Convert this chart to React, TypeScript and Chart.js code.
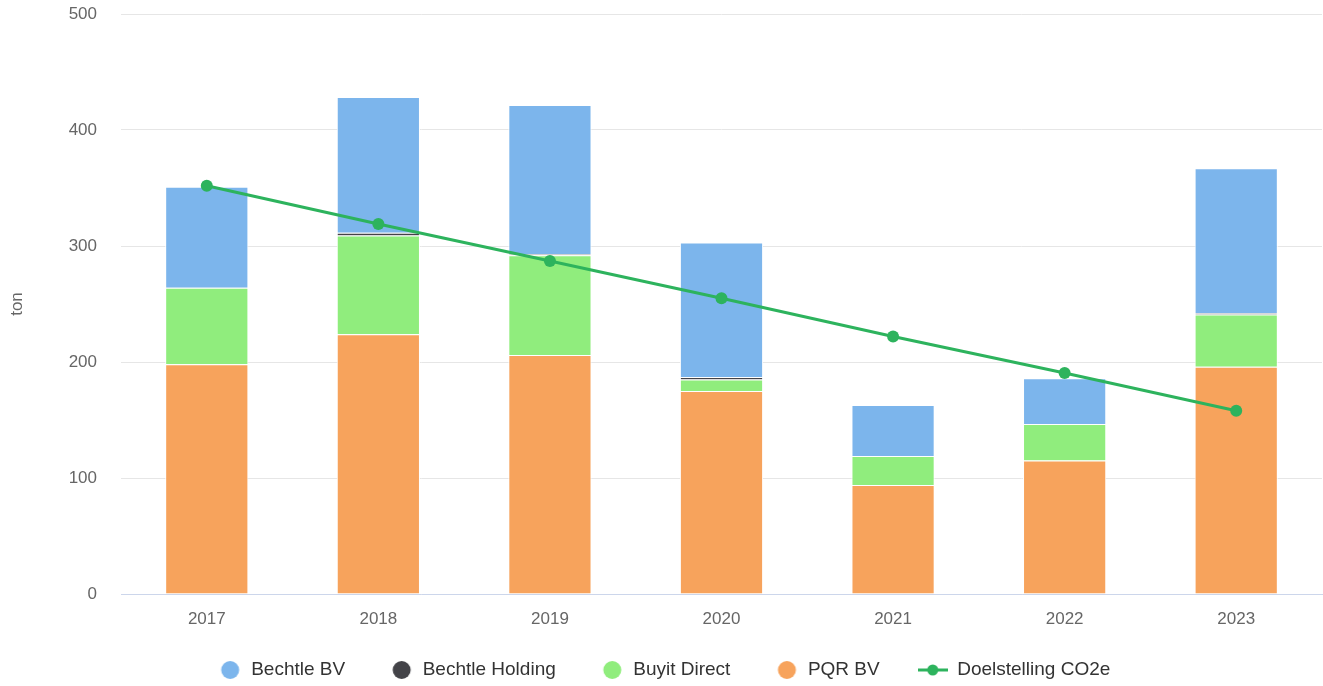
import React, { useEffect, useRef } from "react";
import { Chart, registerables } from "chart.js";

Chart.register(...registerables);

const years = ["2017", "2018", "2019", "2020", "2021", "2022", "2023"];
const pqrBV = [198, 224, 206, 175, 94, 115, 196];
const buyitDirect = [66, 85, 86, 10, 25, 31.5, 45];
const bechtleHolding = [0, 2.5, 1, 2, 0, 0, 1];
const bechtleBV = [87, 117, 128.5, 116, 44, 39.5, 125];
const doelstelling = [352, 319, 287, 255, 222, 190.5, 158];
const yTicks = [0, 100, 200, 300, 400, 500];

const COLORS = {
  bv: "#7cb5ec",
  holding: "#434348",
  buyit: "#90ed7d",
  pqr: "#f7a35c",
  line: "#2db35d",
};

const FONT = "'Liberation Sans', Arial, sans-serif";

function circleIcon(color: string): HTMLCanvasElement {
  const c = document.createElement("canvas");
  c.width = 30;
  c.height = 20;
  const ctx = c.getContext("2d")!;
  ctx.fillStyle = color;
  ctx.beginPath();
  ctx.arc(18.5, 10, 9, 0, Math.PI * 2);
  ctx.fill();
  return c;
}

function lineIcon(color: string): HTMLCanvasElement {
  const c = document.createElement("canvas");
  c.width = 30;
  c.height = 20;
  const ctx = c.getContext("2d")!;
  ctx.strokeStyle = color;
  ctx.lineWidth = 3;
  ctx.beginPath();
  ctx.moveTo(0, 10);
  ctx.lineTo(30, 10);
  ctx.stroke();
  ctx.fillStyle = color;
  ctx.beginPath();
  ctx.arc(15, 10, 5.5, 0, Math.PI * 2);
  ctx.fill();
  return c;
}

export default function App() {
  const ref = useRef<HTMLCanvasElement | null>(null);

  useEffect(() => {
    if (!ref.current) return;
    const icons: Record<string, HTMLCanvasElement> = {
      "Bechtle BV": circleIcon(COLORS.bv),
      "Bechtle Holding": circleIcon(COLORS.holding),
      "Buyit Direct": circleIcon(COLORS.buyit),
      "PQR BV": circleIcon(COLORS.pqr),
      "Doelstelling CO2e": lineIcon(COLORS.line),
    };
    const legendOrder = ["Bechtle BV", "Bechtle Holding", "Buyit Direct", "PQR BV", "Doelstelling CO2e"];

    const barCommon = {
      type: "bar" as const,
      stack: "s",
      borderColor: "#ffffff",
      borderWidth: 1,
      barPercentage: 0.485,
      categoryPercentage: 1,
      order: 2,
    };

    const chart = new Chart(ref.current, {
      type: "bar",
      data: {
        labels: years,
        datasets: [
          { ...barCommon, label: "PQR BV", data: pqrBV, backgroundColor: COLORS.pqr },
          { ...barCommon, label: "Buyit Direct", data: buyitDirect, backgroundColor: COLORS.buyit },
          { ...barCommon, label: "Bechtle Holding", data: bechtleHolding, backgroundColor: COLORS.holding },
          { ...barCommon, label: "Bechtle BV", data: bechtleBV, backgroundColor: COLORS.bv },
          {
            type: "line",
            label: "Doelstelling CO2e",
            data: doelstelling,
            borderColor: COLORS.line,
            backgroundColor: COLORS.line,
            borderWidth: 3,
            pointRadius: 6,
            pointBorderWidth: 0,
            pointBackgroundColor: COLORS.line,
            tension: 0,
            clip: false,
            order: 0,
          } as any,
        ],
      },
      options: {
        animation: false,
        responsive: true,
        maintainAspectRatio: false,
        layout: { autoPadding: false, padding: { top: 14, right: 1, left: 0, bottom: -3.5 } },
        plugins: {
          tooltip: { enabled: false },
          legend: {
            position: "bottom",
            labels: {
              usePointStyle: true,
              pointStyleWidth: 30,
              boxHeight: 19,
              padding: 38,
              color: "#333333",
              font: { family: FONT, size: 19 },
              generateLabels: (ch: any) => {
                const base = Chart.defaults.plugins.legend.labels.generateLabels(ch);
                base.forEach((l: any) => {
                  l.pointStyle = icons[l.text];
                  l.lineWidth = 0;
                });
                return base.sort(
                  (a: any, b: any) => legendOrder.indexOf(a.text) - legendOrder.indexOf(b.text)
                );
              },
            },
          },
        },
        scales: {
          x: {
            stacked: true,
            grid: { display: false, drawTicks: false },
            border: { display: true, color: "#ccd6eb", width: 1 },
            ticks: { color: "#666666", font: { family: FONT, size: 17 }, padding: 15 },
            afterFit: (s: any) => {
              s.height = 28.5;
              s.paddingLeft = 0;
              s.paddingRight = 0;
              s._computeLabelArea = () => undefined;
            },
          },
          y: {
            stacked: true,
            min: 0,
            max: 500,
            afterBuildTicks: (s: any) => {
              s.ticks = yTicks.map((v) => ({ value: v }));
            },
            grid: { color: "#e6e6e6", drawTicks: false, lineWidth: 1 },
            border: { display: false },
            ticks: { color: "#666666", font: { family: FONT, size: 17 }, padding: 24 },
            title: {
              display: true,
              text: "ton",
              color: "#666666",
              font: { family: FONT, size: 17 },
              padding: { top: 7, bottom: 0 },
            },
            afterFit: (s: any) => {
              s.width = 121;
              s.paddingTop = 0;
              s.paddingBottom = 0;
            },
          },
        },
      },
    } as any);
    return () => chart.destroy();
  }, []);

  return (
    <div style={{ position: "absolute", left: 0, top: 0, width: 1323, height: 686 }}>
      <canvas ref={ref} />
    </div>
  );
}
